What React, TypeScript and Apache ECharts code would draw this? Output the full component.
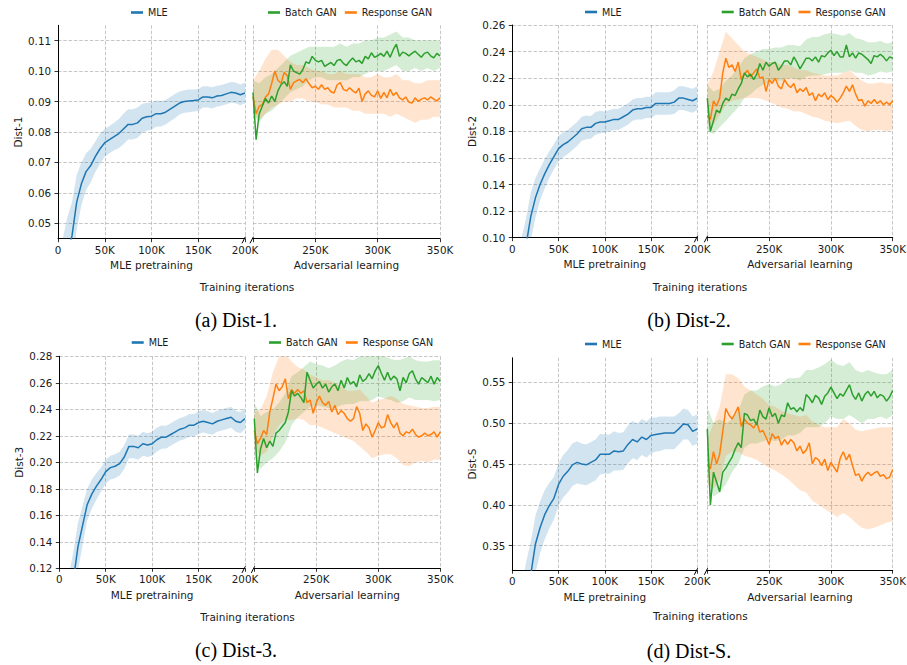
import React, { useEffect, useRef } from "react";
import * as echarts from "echarts";

// ---------------- data (x in thousands of iterations) ----------------
const mleIters = [0, 5, 10, 15, 20, 25, 30, 35, 40, 45, 50, 55, 60, 65, 70, 75, 80, 85, 90, 95, 100, 105, 110, 115, 120, 125, 130, 135, 140, 145, 150, 155, 160, 165, 170, 175, 180, 185, 190, 195, 200];
const ganIters = [200, 202.5, 205, 207.5, 210, 212.5, 215, 217.5, 220, 222.5, 225, 227.5, 230, 232.5, 235, 237.5, 240, 242.5, 245, 247.5, 250, 252.5, 255, 257.5, 260, 262.5, 265, 267.5, 270, 272.5, 275, 277.5, 280, 282.5, 285, 287.5, 290, 292.5, 295, 297.5, 300, 302.5, 305, 307.5, 310, 312.5, 315, 317.5, 320, 322.5, 325, 327.5, 330, 332.5, 335, 337.5, 340, 342.5, 345, 347.5, 350];
const bandIters = [200, 205, 210, 215, 220, 225, 230, 235, 240, 245, 250, 255, 260, 265, 270, 275, 280, 285, 290, 295, 300, 305, 310, 315, 320, 325, 330, 335, 340, 345, 350];

const mleXTicksLabel = ["0", "50K", "100K", "150K", "200K"];
const ganXTicksLabel = ["200K", "250K", "300K", "350K"];

// ----- Dist-1 -----
const dist1Ticks = [0.05, 0.06, 0.07, 0.08, 0.09, 0.1, 0.11];
const dist1Mle = [0.025, 0.033, 0.040, 0.046, 0.057, 0.063, 0.067, 0.069, 0.072, 0.0745,
  0.0765, 0.0775, 0.0785, 0.0795, 0.081, 0.0825, 0.0825, 0.083, 0.0845, 0.085,
  0.0852, 0.086, 0.086, 0.0865, 0.0875, 0.0885, 0.0895, 0.0900, 0.0902, 0.0903,
  0.0905, 0.0915, 0.0915, 0.0912, 0.0918, 0.0920, 0.0925, 0.0930, 0.0928, 0.0922,
  0.0928];
const dist1MleHalf = [0.012, 0.012, 0.012, 0.011, 0.009, 0.007, 0.006, 0.0055, 0.005, 0.005,
  0.0045, 0.0045, 0.0045, 0.0048, 0.005, 0.005, 0.005, 0.005, 0.0048, 0.0046,
  0.0045, 0.0043, 0.0042, 0.004, 0.004, 0.004, 0.0038, 0.0037, 0.0037, 0.0036,
  0.0036, 0.0035, 0.0035, 0.0035, 0.0034, 0.0034, 0.0034, 0.0034, 0.0034, 0.0034,
  0.0034];
const dist1Batch = [0.0930, 0.0775, 0.0860, 0.0885, 0.0910, 0.0895, 0.0918, 0.0900, 0.0935, 0.0955,
  0.0965, 0.0950, 0.1020, 0.1000, 0.0995, 0.0990, 0.1005, 0.1030, 0.1025, 0.1048,
  0.1035, 0.1030, 0.1035, 0.1015, 0.1022, 0.1028, 0.1018, 0.1035, 0.1038, 0.1025,
  0.1018, 0.1032, 0.1043, 0.1030, 0.1035, 0.1025, 0.1048, 0.1040, 0.1060, 0.1045,
  0.1050, 0.1058, 0.1048, 0.1065, 0.1045, 0.1070, 0.1088, 0.1048, 0.1062, 0.1058,
  0.1050, 0.1058, 0.1065, 0.1055, 0.1045, 0.1058, 0.1062, 0.1050, 0.1043, 0.1058,
  0.1050];
const dist1Resp = [0.0915, 0.0860, 0.0885, 0.0890, 0.0915, 0.0925, 0.0960, 0.1000, 0.0970, 0.0960,
  0.0995, 0.0985, 0.0940, 0.0962, 0.0968, 0.0972, 0.0962, 0.0975, 0.0958, 0.0945,
  0.0950, 0.0940, 0.0955, 0.0940, 0.0945, 0.0932, 0.0928, 0.0955, 0.0962, 0.0940,
  0.0935, 0.0945, 0.0935, 0.0928, 0.0944, 0.0900, 0.0925, 0.0935, 0.0920, 0.0915,
  0.0935, 0.0910, 0.0930, 0.0912, 0.0940, 0.0920, 0.0930, 0.0912, 0.0905, 0.0915,
  0.0898, 0.0895, 0.0912, 0.0900, 0.0908, 0.0912, 0.0905, 0.0915, 0.0908, 0.0902,
  0.0912];
const dist1BatchLow = [0.086, 0.083, 0.086, 0.087, 0.089, 0.091, 0.093, 0.094, 0.095, 0.097,
  0.098, 0.098, 0.097, 0.097, 0.097, 0.097, 0.098, 0.098, 0.099, 0.100,
  0.100, 0.100, 0.101, 0.102, 0.100, 0.100, 0.101, 0.100, 0.101, 0.100, 0.101];
const dist1BatchHigh = [0.097, 0.096, 0.098, 0.099, 0.101, 0.103, 0.105, 0.106, 0.107, 0.108,
  0.108, 0.108, 0.108, 0.108, 0.109, 0.108, 0.109, 0.109, 0.110, 0.110,
  0.111, 0.111, 0.112, 0.113, 0.111, 0.111, 0.110, 0.110, 0.110, 0.110, 0.110];
const dist1RespLow = [0.086, 0.084, 0.086, 0.088, 0.089, 0.090, 0.090, 0.091, 0.091, 0.090,
  0.090, 0.089, 0.089, 0.088, 0.088, 0.088, 0.087, 0.087, 0.086, 0.086,
  0.086, 0.086, 0.085, 0.086, 0.085, 0.084, 0.083, 0.084, 0.084, 0.085, 0.085];
const dist1RespHigh = [0.097, 0.100, 0.104, 0.107, 0.107, 0.105, 0.103, 0.102, 0.102, 0.101,
  0.100, 0.100, 0.099, 0.099, 0.100, 0.099, 0.099, 0.099, 0.098, 0.098,
  0.099, 0.098, 0.098, 0.099, 0.097, 0.097, 0.096, 0.096, 0.097, 0.097, 0.097];

// ----- Dist-2 -----
const dist2Ticks = [0.1, 0.12, 0.14, 0.16, 0.18, 0.2, 0.22, 0.24, 0.26];
const dist2Mle = [0.05, 0.065, 0.080, 0.095, 0.116, 0.130, 0.140, 0.148, 0.155, 0.161,
  0.167, 0.170, 0.172, 0.175, 0.178, 0.182, 0.183, 0.183, 0.186, 0.187,
  0.187, 0.188, 0.189, 0.189, 0.191, 0.193, 0.196, 0.197, 0.197, 0.198,
  0.198, 0.201, 0.201, 0.201, 0.201, 0.202, 0.205, 0.205, 0.204, 0.203,
  0.205];
const dist2MleHalf = [0.02, 0.02, 0.02, 0.02, 0.018, 0.015, 0.012, 0.011, 0.010, 0.0095,
  0.0095, 0.0095, 0.009, 0.009, 0.009, 0.009, 0.009, 0.0085, 0.0085, 0.0085,
  0.008, 0.008, 0.008, 0.008, 0.008, 0.008, 0.008, 0.008, 0.008, 0.008,
  0.008, 0.0085, 0.0085, 0.0085, 0.0085, 0.009, 0.009, 0.009, 0.009, 0.009,
  0.009];
const dist2Batch = [0.205, 0.180, 0.188, 0.196, 0.194, 0.201, 0.205, 0.203, 0.208, 0.207,
  0.212, 0.216, 0.224, 0.221, 0.223, 0.219, 0.223, 0.231, 0.226, 0.232,
  0.229, 0.231, 0.232, 0.226, 0.229, 0.233, 0.233, 0.230, 0.236, 0.232,
  0.227, 0.231, 0.235, 0.235, 0.233, 0.236, 0.232, 0.237, 0.236, 0.239,
  0.241, 0.237, 0.240, 0.236, 0.236, 0.245, 0.236, 0.239, 0.235, 0.239,
  0.238, 0.236, 0.234, 0.231, 0.237, 0.236, 0.238, 0.236, 0.233, 0.236,
  0.235];
const dist2Resp = [0.192, 0.189, 0.203, 0.199, 0.205, 0.224, 0.235, 0.228, 0.230, 0.225,
  0.232, 0.219, 0.223, 0.226, 0.221, 0.224, 0.227, 0.220, 0.221, 0.210,
  0.219, 0.216, 0.220, 0.214, 0.212, 0.219, 0.215, 0.213, 0.216, 0.209,
  0.212, 0.210, 0.213, 0.207, 0.209, 0.203, 0.208, 0.206, 0.209, 0.204,
  0.207, 0.205, 0.202, 0.205, 0.209, 0.214, 0.210, 0.215, 0.208, 0.203,
  0.204, 0.199, 0.203, 0.201, 0.204, 0.201, 0.203, 0.200, 0.202, 0.200,
  0.203];
const dist2BatchLow = [0.180, 0.178, 0.183, 0.188, 0.193, 0.198, 0.205, 0.208, 0.212, 0.215,
  0.217, 0.218, 0.218, 0.220, 0.220, 0.218, 0.221, 0.222, 0.222, 0.223,
  0.224, 0.224, 0.224, 0.226, 0.224, 0.224, 0.222, 0.223, 0.225, 0.224, 0.225];
const dist2BatchHigh = [0.215, 0.210, 0.212, 0.218, 0.222, 0.228, 0.235, 0.238, 0.240, 0.242,
  0.242, 0.243, 0.243, 0.245, 0.245, 0.244, 0.249, 0.251, 0.251, 0.253,
  0.254, 0.253, 0.252, 0.254, 0.250, 0.249, 0.247, 0.247, 0.248, 0.246, 0.247];
const dist2RespLow = [0.185, 0.185, 0.192, 0.200, 0.203, 0.204, 0.205, 0.205, 0.205, 0.204,
  0.202, 0.200, 0.198, 0.197, 0.195, 0.195, 0.193, 0.191, 0.190, 0.188,
  0.187, 0.186, 0.187, 0.188, 0.184, 0.181, 0.180, 0.181, 0.181, 0.180, 0.181];
const dist2RespHigh = [0.215, 0.225, 0.240, 0.255, 0.250, 0.245, 0.240, 0.238, 0.236, 0.234,
  0.232, 0.232, 0.230, 0.230, 0.228, 0.226, 0.226, 0.224, 0.223, 0.222,
  0.222, 0.222, 0.224, 0.226, 0.222, 0.218, 0.216, 0.216, 0.217, 0.216, 0.216];

// ----- Dist-3 -----
const dist3Ticks = [0.12, 0.14, 0.16, 0.18, 0.2, 0.22, 0.24, 0.26, 0.28];
const dist3Mle = [0.06, 0.075, 0.092, 0.110, 0.136, 0.152, 0.168, 0.176, 0.182, 0.187,
  0.193, 0.196, 0.197, 0.199, 0.204, 0.212, 0.212, 0.211, 0.214, 0.213,
  0.214, 0.217, 0.219, 0.219, 0.221, 0.223, 0.225, 0.226, 0.228, 0.228,
  0.230, 0.231, 0.230, 0.229, 0.231, 0.232, 0.233, 0.234, 0.231, 0.230,
  0.233];
const dist3MleHalf = [0.022, 0.022, 0.022, 0.022, 0.018, 0.015, 0.012, 0.011, 0.010, 0.009,
  0.009, 0.009, 0.009, 0.009, 0.009, 0.009, 0.009, 0.009, 0.009, 0.009,
  0.009, 0.009, 0.0088, 0.0086, 0.0085, 0.0085, 0.0085, 0.0085, 0.0085, 0.0085,
  0.0085, 0.0085, 0.0085, 0.0082, 0.008, 0.008, 0.008, 0.008, 0.008, 0.008,
  0.008];
const dist3Batch = [0.233, 0.192, 0.210, 0.218, 0.211, 0.216, 0.212, 0.222, 0.224, 0.227,
  0.230, 0.238, 0.254, 0.250, 0.252, 0.249, 0.245, 0.268, 0.262, 0.256,
  0.259, 0.261, 0.256, 0.259, 0.253, 0.257, 0.259, 0.254, 0.262, 0.256,
  0.264, 0.259, 0.261, 0.257, 0.266, 0.261, 0.263, 0.267, 0.263, 0.269,
  0.273, 0.267, 0.262, 0.268, 0.262, 0.265, 0.263, 0.254, 0.264, 0.260,
  0.267, 0.269, 0.263, 0.259, 0.264, 0.262, 0.260, 0.265, 0.259, 0.264,
  0.261];
const dist3Resp = [0.224, 0.214, 0.218, 0.224, 0.221, 0.238, 0.248, 0.259, 0.254, 0.257,
  0.263, 0.248, 0.255, 0.252, 0.255, 0.252, 0.254, 0.245, 0.247, 0.237,
  0.245, 0.250, 0.245, 0.243, 0.246, 0.238, 0.243, 0.236, 0.239, 0.237,
  0.233, 0.231, 0.233, 0.242, 0.237, 0.224, 0.229, 0.226, 0.219, 0.224,
  0.230, 0.226, 0.227, 0.236, 0.230, 0.226, 0.230, 0.222, 0.220, 0.223,
  0.222, 0.225, 0.221, 0.219, 0.220, 0.222, 0.220, 0.221, 0.223, 0.219,
  0.223];
const dist3BatchLow = [0.205, 0.195, 0.200, 0.203, 0.208, 0.215, 0.228, 0.234, 0.238, 0.242,
  0.243, 0.242, 0.241, 0.241, 0.243, 0.244, 0.244, 0.246, 0.246, 0.247,
  0.250, 0.248, 0.247, 0.245, 0.246, 0.249, 0.247, 0.247, 0.247, 0.246, 0.247];
const dist3BatchHigh = [0.245, 0.235, 0.238, 0.240, 0.245, 0.252, 0.265, 0.268, 0.272, 0.276,
  0.274, 0.273, 0.271, 0.273, 0.276, 0.278, 0.277, 0.280, 0.280, 0.281,
  0.282, 0.280, 0.278, 0.277, 0.278, 0.280, 0.277, 0.276, 0.276, 0.277, 0.277];
const dist3RespLow = [0.210, 0.205, 0.208, 0.220, 0.228, 0.232, 0.232, 0.233, 0.232, 0.228,
  0.228, 0.226, 0.224, 0.222, 0.220, 0.218, 0.216, 0.212, 0.208, 0.203,
  0.205, 0.206, 0.206, 0.203, 0.198, 0.197, 0.200, 0.201, 0.200, 0.202, 0.202];
const dist3RespHigh = [0.238, 0.240, 0.250, 0.268, 0.280, 0.282, 0.276, 0.272, 0.270, 0.266,
  0.264, 0.262, 0.262, 0.260, 0.257, 0.254, 0.254, 0.255, 0.250, 0.245,
  0.247, 0.248, 0.250, 0.248, 0.244, 0.243, 0.242, 0.241, 0.241, 0.242, 0.242];

// ----- Dist-S -----
const distSTicks = [0.35, 0.4, 0.45, 0.5, 0.55];
const distSMle = [0.20, 0.23, 0.26, 0.29, 0.315, 0.352, 0.372, 0.388, 0.399, 0.408,
  0.425, 0.435, 0.441, 0.449, 0.452, 0.450, 0.449, 0.452, 0.455, 0.462,
  0.462, 0.462, 0.466, 0.465, 0.466, 0.474, 0.480, 0.477, 0.483, 0.480,
  0.485, 0.486, 0.487, 0.488, 0.488, 0.488, 0.493, 0.499, 0.498, 0.490,
  0.493];
const distSMleHalf = [0.04, 0.04, 0.04, 0.04, 0.04, 0.035, 0.032, 0.03, 0.028, 0.026,
  0.026, 0.026, 0.026, 0.026, 0.026, 0.025, 0.025, 0.025, 0.025, 0.025,
  0.024, 0.024, 0.024, 0.023, 0.023, 0.023, 0.023, 0.022, 0.022, 0.022,
  0.022, 0.021, 0.021, 0.02, 0.02, 0.02, 0.019, 0.019, 0.018, 0.018,
  0.018];
const distSBatch = [0.493, 0.400, 0.440, 0.428, 0.416, 0.440, 0.445, 0.452, 0.458, 0.468,
  0.476, 0.470, 0.512, 0.510, 0.503, 0.505, 0.498, 0.516, 0.508, 0.505,
  0.519, 0.508, 0.512, 0.500, 0.510, 0.508, 0.525, 0.517, 0.519, 0.514,
  0.519, 0.515, 0.535, 0.531, 0.525, 0.534, 0.531, 0.523, 0.533, 0.537,
  0.544, 0.537, 0.530, 0.536, 0.533, 0.540, 0.547, 0.535, 0.529, 0.537,
  0.527, 0.535, 0.539, 0.533, 0.539, 0.531, 0.535, 0.533, 0.527, 0.532,
  0.540];
const distSResp = [0.450, 0.444, 0.465, 0.450, 0.462, 0.490, 0.518, 0.510, 0.505, 0.512,
  0.520, 0.496, 0.505, 0.500, 0.498, 0.494, 0.501, 0.489, 0.491, 0.483,
  0.474, 0.487, 0.481, 0.484, 0.473, 0.480, 0.474, 0.480, 0.476, 0.466,
  0.472, 0.463, 0.467, 0.476, 0.450, 0.458, 0.455, 0.448, 0.456, 0.442,
  0.452, 0.446, 0.440, 0.457, 0.465, 0.455, 0.462, 0.448, 0.436, 0.438,
  0.429, 0.436, 0.440, 0.436, 0.439, 0.441, 0.435, 0.437, 0.432, 0.434,
  0.443];
const distSBatchLow = [0.440, 0.410, 0.415, 0.425, 0.440, 0.450, 0.470, 0.475, 0.475, 0.478,
  0.480, 0.478, 0.480, 0.485, 0.485, 0.488, 0.495, 0.495, 0.495, 0.500,
  0.508, 0.505, 0.505, 0.510, 0.505, 0.500, 0.505, 0.505, 0.508, 0.505, 0.510];
const distSBatchHigh = [0.520, 0.500, 0.505, 0.500, 0.505, 0.515, 0.535, 0.540, 0.540, 0.545,
  0.548, 0.545, 0.548, 0.555, 0.555, 0.556, 0.565, 0.565, 0.568, 0.572,
  0.578, 0.572, 0.570, 0.575, 0.565, 0.562, 0.565, 0.562, 0.560, 0.560, 0.565];
const distSRespLow = [0.425, 0.420, 0.430, 0.460, 0.465, 0.465, 0.460, 0.458, 0.455, 0.450,
  0.445, 0.442, 0.437, 0.432, 0.425, 0.418, 0.415, 0.405, 0.400, 0.395,
  0.390, 0.385, 0.390, 0.385, 0.378, 0.372, 0.370, 0.372, 0.375, 0.378, 0.380];
const distSRespHigh = [0.480, 0.500, 0.520, 0.560, 0.560, 0.555, 0.545, 0.540, 0.535, 0.530,
  0.522, 0.520, 0.515, 0.512, 0.510, 0.508, 0.510, 0.502, 0.498, 0.495,
  0.495, 0.495, 0.505, 0.500, 0.492, 0.490, 0.492, 0.493, 0.495, 0.495, 0.495];

// ---------------- panels & layout ----------------
const PANELS = [
  { yName: "Dist-1", yMin: 0.045, yMax: 0.115, ticks: dist1Ticks, mle: dist1Mle, mleHalf: dist1MleHalf, batch: dist1Batch, resp: dist1Resp, batchLow: dist1BatchLow, batchHigh: dist1BatchHigh, respLow: dist1RespLow, respHigh: dist1RespHigh, caption: "(a) Dist-1." },
  { yName: "Dist-2", yMin: 0.1, yMax: 0.26, ticks: dist2Ticks, mle: dist2Mle, mleHalf: dist2MleHalf, batch: dist2Batch, resp: dist2Resp, batchLow: dist2BatchLow, batchHigh: dist2BatchHigh, respLow: dist2RespLow, respHigh: dist2RespHigh, caption: "(b) Dist-2." },
  { yName: "Dist-3", yMin: 0.12, yMax: 0.28, ticks: dist3Ticks, mle: dist3Mle, mleHalf: dist3MleHalf, batch: dist3Batch, resp: dist3Resp, batchLow: dist3BatchLow, batchHigh: dist3BatchHigh, respLow: dist3RespLow, respHigh: dist3RespHigh, caption: "(c) Dist-3." },
  { yName: "Dist-S", yMin: 0.32, yMax: 0.58, ticks: distSTicks, mle: distSMle, mleHalf: distSMleHalf, batch: distSBatch, resp: distSResp, batchLow: distSBatchLow, batchHigh: distSBatchHigh, respLow: distSRespLow, respHigh: distSRespHigh, caption: "(d) Dist-S." },
];

const LAYOUTS = [
  { x0: 58, xMidL: 245, xMidR: 253, x1: 440, yTop: 25.3, yBot: 238.7, mleLegendLeft: 131, ganLegendLeft: 268, legendTop: 7.5, trainX: 247, trainY: 287, capX: 236, capY: 320 },
  { x0: 512.3, xMidL: 697.3, xMidR: 707.3, x1: 892.7, yTop: 25, yBot: 237.7, mleLegendLeft: 585, ganLegendLeft: 721.7, legendTop: 7, trainX: 700, trainY: 286.7, capX: 689, capY: 320 },
  { x0: 59.3, xMidL: 245, xMidR: 254.3, x1: 440.3, yTop: 356.3, yBot: 568.3, mleLegendLeft: 131.7, ganLegendLeft: 269, legendTop: 337.5, trainX: 247.5, trainY: 617.3, capX: 236, capY: 650 },
  { x0: 512.3, xMidL: 697.3, xMidR: 707.3, x1: 892.7, yTop: 357.8, yBot: 570.2, mleLegendLeft: 585, ganLegendLeft: 721.7, legendTop: 339, trainX: 700.3, trainY: 615.7, capX: 689, capY: 650.7 },
];

const BLUE = "#1f77b4";
const ORANGE = "#ff7f0e";
const GREEN = "#2ca02c";
const BLUE_BAND = "rgba(31,119,180,0.2)";
const ORANGE_BAND = "rgba(255,127,14,0.2)";
const GREEN_BAND = "rgba(44,160,44,0.2)";
const FONT = "DejaVu Sans";
const TEXT = "#1a1a1a";
const GRID_LINE = { color: "#b7b7b7", width: 0.8, type: [3.5, 1.8] as any };

function makeBandRenderer(fill: string) {
  return (params: any, api: any) => {
    if (params.dataIndexInside !== 0) return null;
    const n = params.dataInsideLength;
    const upper: number[][] = [];
    const lower: number[][] = [];
    for (let i = 0; i < n; i++) {
      const x = api.value(0, i);
      upper.push(api.coord([x, api.value(2, i)]));
      lower.push(api.coord([x, api.value(1, i)]));
    }
    const cs = params.coordSys;
    return {
      type: "polygon",
      shape: { points: upper.concat(lower.reverse()) },
      style: { fill, stroke: "none" },
      clipPath: { type: "rect", shape: { x: cs.x, y: cs.y, width: cs.width, height: cs.height } },
      silent: true,
    };
  };
}

function buildOption() {
  const grid: any[] = [];
  const xAxis: any[] = [];
  const yAxis: any[] = [];
  const series: any[] = [];
  const legend: any[] = [];
  const graphic: any[] = [];

  PANELS.forEach((p, idx) => {
    const L = LAYOUTS[idx];
    const gL = idx * 2;
    const gR = idx * 2 + 1;
    const h = L.yBot - L.yTop;
    grid.push({ left: L.x0, top: L.yTop, width: L.xMidL - L.x0, height: h, containLabel: false, outerBoundsMode: "none" });
    grid.push({ left: L.xMidR, top: L.yTop, width: L.x1 - L.xMidR, height: h, containLabel: false, outerBoundsMode: "none" });

    const xCommon = {
      type: "value",
      interval: 50,
      axisLine: { show: true, onZero: false, lineStyle: { color: "#000", width: 1 } },
      axisTick: { show: true, length: 3.5, lineStyle: { color: "#000", width: 0.8 } },
      splitLine: { show: true, lineStyle: GRID_LINE },
      nameLocation: "middle",
      nameGap: 21,
      nameTextStyle: { fontSize: 10.5, fontFamily: FONT, color: TEXT },
    };
    xAxis.push({
      ...xCommon,
      gridIndex: gL,
      min: 0,
      max: 200,
      name: "MLE pretraining",
      axisLabel: { fontSize: 10.3, fontFamily: FONT, color: TEXT, margin: 6, formatter: (v: number) => mleXTicksLabel[Math.round(v / 50)] ?? "" },
    });
    xAxis.push({
      ...xCommon,
      gridIndex: gR,
      min: 200,
      max: 350,
      name: "Adversarial learning",
      axisLabel: { fontSize: 10.3, fontFamily: FONT, color: TEXT, margin: 6, formatter: (v: number) => (v === 200 ? "" : ganXTicksLabel[Math.round((v - 200) / 50)] ?? "") },
    });

    yAxis.push({
      gridIndex: gL,
      type: "value",
      min: p.yMin,
      max: p.yMax,
      axisLine: { show: true, onZero: false, lineStyle: { color: "#000", width: 1 } },
      axisTick: { show: true, length: 3.5, lineStyle: { color: "#000", width: 0.8 }, customValues: p.ticks },
      axisLabel: { show: true, customValues: p.ticks, fontSize: 10.3, fontFamily: FONT, color: TEXT, margin: 7, formatter: (v: number) => v.toFixed(2) },
      splitLine: { show: true, lineStyle: GRID_LINE },
      name: p.yName,
      nameLocation: "middle",
      nameGap: 35,
      nameTextStyle: { fontSize: 10.5, fontFamily: FONT, color: TEXT },
    });
    yAxis.push({
      gridIndex: gR,
      type: "value",
      min: p.yMin,
      max: p.yMax,
      axisLine: { show: false, onZero: false },
      axisTick: { show: false, customValues: p.ticks },
      axisLabel: { show: false, customValues: p.ticks },
      splitLine: { show: true, lineStyle: GRID_LINE },
    });

    // bands
    series.push({
      type: "custom", xAxisIndex: gL, yAxisIndex: gL, z: 1, silent: true,
      encode: { x: 0, y: [1, 2] },
      data: mleIters.map((x, i) => [x, p.mle[i] - p.mleHalf[i], p.mle[i] + p.mleHalf[i]]),
      renderItem: makeBandRenderer(BLUE_BAND),
    });
    series.push({
      type: "custom", xAxisIndex: gR, yAxisIndex: gR, z: 1, silent: true,
      encode: { x: 0, y: [1, 2] },
      data: bandIters.map((x, i) => [x, p.batchLow[i], p.batchHigh[i]]),
      renderItem: makeBandRenderer(GREEN_BAND),
    });
    series.push({
      type: "custom", xAxisIndex: gR, yAxisIndex: gR, z: 1, silent: true,
      encode: { x: 0, y: [1, 2] },
      data: bandIters.map((x, i) => [x, p.respLow[i], p.respHigh[i]]),
      renderItem: makeBandRenderer(ORANGE_BAND),
    });

    // lines
    const lineBase = { type: "line", symbol: "none", showSymbol: false, silent: true, clip: true };
    series.push({
      ...lineBase, name: "MLE", xAxisIndex: gL, yAxisIndex: gL, z: 3, color: BLUE,
      lineStyle: { color: BLUE, width: 1.5 }, itemStyle: { color: BLUE },
      data: mleIters.map((x, i) => [x, p.mle[i]]),
    });
    series.push({
      ...lineBase, name: "Response GAN", xAxisIndex: gR, yAxisIndex: gR, z: 3, color: ORANGE,
      lineStyle: { color: ORANGE, width: 1.5 }, itemStyle: { color: ORANGE },
      data: ganIters.map((x, i) => [x, p.resp[i]]),
    });
    series.push({
      ...lineBase, name: "Batch GAN", xAxisIndex: gR, yAxisIndex: gR, z: 4, color: GREEN,
      lineStyle: { color: GREEN, width: 1.5 }, itemStyle: { color: GREEN },
      data: ganIters.map((x, i) => [x, p.batch[i]]),
    });

    const legendBase = {
      orient: "horizontal", icon: "rect", itemWidth: 12, itemHeight: 2.6, itemGap: 8, padding: 0,
      selectedMode: false,
      textStyle: { fontSize: 9.6, fontFamily: FONT, color: TEXT },
    };
    legend.push({ ...legendBase, left: L.mleLegendLeft, top: L.legendTop, data: ["MLE"] });
    legend.push({ ...legendBase, left: L.ganLegendLeft, top: L.legendTop, data: ["Batch GAN", "Response GAN"] });

    // break marks
    [L.xMidL, L.xMidR].forEach((bx) => {
      graphic.push({
        type: "line", silent: true, z: 100,
        shape: { x1: bx - 3, y1: L.yBot + 4.6, x2: bx + 0.4, y2: L.yBot - 2 },
        style: { stroke: "#000", lineWidth: 1 },
      });
    });

    graphic.push({
      type: "text", silent: true, x: L.trainX, y: L.trainY,
      style: { text: "Training iterations", fontSize: 10.5, fontFamily: FONT, fill: TEXT, align: "center", verticalAlign: "middle", textAlign: "center", textVerticalAlign: "middle" },
    });
    graphic.push({
      type: "text", silent: true, x: L.capX, y: L.capY,
      style: { text: p.caption, fontSize: 20, fontFamily: "Liberation Serif", fill: "#000", align: "center", verticalAlign: "middle", textAlign: "center", textVerticalAlign: "middle" },
    });
  });

  return { animation: false, backgroundColor: "#fff", grid, xAxis, yAxis, series, legend, graphic };
}

export default function App() {
  const ref = useRef<HTMLDivElement>(null);
  useEffect(() => {
    document.body.style.margin = "0";
    if (!ref.current) return;
    const chart = echarts.init(ref.current, null, { renderer: "svg" });
    chart.setOption(buildOption() as any);
    return () => chart.dispose();
  }, []);
  return <div ref={ref} style={{ width: 907, height: 665 }} />;
}
